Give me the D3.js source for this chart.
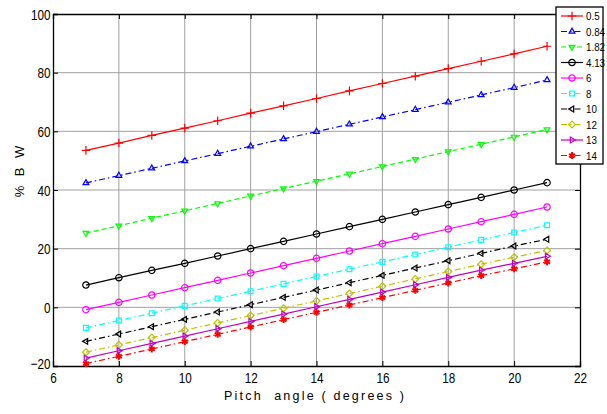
<!DOCTYPE html>
<html>
<head>
<meta charset="utf-8">
<script src="https://cdn.jsdelivr.net/npm/d3@7"></script>
<style>
  body { margin: 0; background: #fff; }
  text { font-family: "Liberation Sans", Arial, sans-serif; }
</style>
</head>
<body>
<div id="chart"></div>
<script>
// data
var pitch = [7, 8, 9, 10, 11, 12, 13, 14, 15, 16, 17, 18, 19, 20, 21];
var seriesNames = ["0.5", "0.84", "1.82", "4.13", "6", "8", "10", "12", "13", "14"];
var s05   = [53.5, 56.0, 58.6, 61.1, 63.6, 66.2, 68.7, 71.2, 73.8, 76.3, 78.8, 81.4, 83.9, 86.4, 89.0];
var s084  = [42.4, 44.9, 47.4, 49.9, 52.4, 54.9, 57.4, 59.9, 62.4, 64.9, 67.4, 69.9, 72.4, 74.9, 77.5];
var s182  = [25.3, 27.8, 30.4, 32.9, 35.4, 38.0, 40.5, 43.0, 45.5, 48.0, 50.5, 53.1, 55.6, 58.1, 60.6];
var s413  = [7.6, 10.1, 12.6, 15.0, 17.5, 20.0, 22.5, 25.0, 27.5, 30.0, 32.5, 35.0, 37.5, 40.0, 42.5];
var s6    = [-0.8, 1.7, 4.2, 6.7, 9.2, 11.7, 14.2, 16.7, 19.2, 21.7, 24.2, 26.7, 29.2, 31.7, 34.2];
var s8    = [-7.0, -4.5, -2.0, 0.5, 3.0, 5.5, 8.0, 10.5, 13.0, 15.5, 18.0, 20.5, 23.0, 25.5, 28.0];
var s10   = [-11.6, -9.1, -6.6, -4.1, -1.6, 0.9, 3.4, 5.9, 8.4, 10.9, 13.4, 15.9, 18.4, 20.9, 23.2];
var s12   = [-15.3, -12.8, -10.3, -7.8, -5.3, -2.8, -0.3, 2.2, 4.7, 7.2, 9.7, 12.2, 14.7, 17.1, 19.4];
var s13   = [-17.3, -14.8, -12.3, -9.8, -7.3, -4.8, -2.3, 0.2, 2.7, 5.2, 7.7, 10.2, 12.7, 15.0, 17.4];
var s14   = [-19.2, -16.7, -14.2, -11.7, -9.2, -6.7, -4.2, -1.7, 0.8, 3.3, 5.8, 8.3, 10.8, 13.1, 15.5];
var seriesValues = [s05, s084, s182, s413, s6, s8, s10, s12, s13, s14];
var xTicks = [6, 8, 10, 12, 14, 16, 18, 20, 22];
var yTicks = [-20, 0, 20, 40, 60, 80, 100];

// look of each series (MATLAB style)
var colors  = ["#ff0000", "#0000ff", "#00ff00", "#000000", "#ff00ff", "#00ffff", "#000000", "#bfbf00", "#bf00bf", "#ff0000"];
var dashes  = [null, "6,3,1.5,3", "5,3", null, null, "6,3,1.5,3", "6,3,1.5,3", "6,3,1.5,3", null, "6,3,1.5,3"];
var markers = ["plus", "tri-up", "tri-down", "circle", "circle", "square", "tri-left", "diamond", "tri-right", "star"];

var svgWidth = 607, svgHeight = 414;
var margin = {top: 14, right: 27, bottom: 48, left: 53};
var width = svgWidth - margin.left - margin.right;
var height = svgHeight - margin.top - margin.bottom;
var narrow = 0.78;

var svg = d3.select("#chart").append("svg")
  .attr("width", svgWidth)
  .attr("height", svgHeight);

var chartGroup = svg.append("g")
  .attr("transform", `translate(${margin.left}, ${margin.top})`);

var x = d3.scaleLinear().domain([6, 22]).range([0, width]);
var y = d3.scaleLinear().domain([-20, 100]).range([height, 0]);

// grid
chartGroup.append("g").selectAll("line").data(xTicks.slice(1, -1)).enter().append("line")
  .attr("x1", d => x(d)).attr("x2", d => x(d)).attr("y1", 0).attr("y2", height)
  .attr("stroke", "#a0a0a0").attr("stroke-width", 1);
chartGroup.append("g").selectAll("line").data(yTicks.slice(1, -1)).enter().append("line")
  .attr("y1", d => y(d)).attr("y2", d => y(d)).attr("x1", 0).attr("x2", width)
  .attr("stroke", "#a0a0a0").attr("stroke-width", 1);

// axes
var bottomAxis = d3.axisBottom(x).tickValues(xTicks).tickSize(-5).tickPadding(6);
var leftAxis = d3.axisLeft(y).tickValues(yTicks).tickSize(-5).tickPadding(3);
var topAxis = d3.axisTop(x).tickValues(xTicks).tickSize(-5).tickFormat("");
var rightAxis = d3.axisRight(y).tickValues(yTicks).tickSize(-5).tickFormat("");

var gx = chartGroup.append("g").attr("transform", `translate(0, ${height})`).call(bottomAxis);
var gy = chartGroup.append("g").call(leftAxis);
chartGroup.append("g").call(topAxis);
chartGroup.append("g").attr("transform", `translate(${width}, 0)`).call(rightAxis);

chartGroup.selectAll(".domain").attr("stroke", "#000").attr("stroke-width", 1.3);
chartGroup.selectAll(".tick line").attr("stroke", "#000");
chartGroup.selectAll(".tick text").attr("font-size", 15).attr("fill", "#000")
  .attr("font-family", "'Liberation Sans', Arial, sans-serif");
gx.selectAll(".tick text").attr("transform", `scale(${narrow},1)`);
gy.selectAll(".tick text")
  .attr("x", -2.5 / narrow)
  .attr("transform", `scale(${narrow},1)`)
  .attr("dy", "0.35em");
gy.selectAll(".tick").filter(d => d === -20).select("text").attr("dy", "0.15em");

// axis titles
chartGroup.append("text")
  .attr("x", 224 - margin.left)
  .attr("y", 400 - margin.top)
  .attr("font-size", 12.5)
  .attr("textLength", 180)
  .attr("lengthAdjust", "spacing")
  .attr("xml:space", "preserve")
  .style("white-space", "pre")
  .text("Pitch  angle ( degrees )");

chartGroup.append("text")
  .attr("transform", "rotate(-90)")
  .attr("x", -(170 - margin.top))
  .attr("y", 24 - margin.left)
  .attr("text-anchor", "middle")
  .attr("font-size", 13)
  .attr("letter-spacing", 3)
  .text("% B W");

// marker drawer
function drawMarker(g, kind, color) {
  var sym, rot = 0, size;
  if (kind === "plus") { sym = d3.symbolPlus; size = 26; }
  else if (kind === "circle") { sym = d3.symbolCircle; size = 32; }
  else if (kind === "square") { sym = d3.symbolSquare2; size = 30; }
  else if (kind === "diamond") { sym = d3.symbolDiamond2; size = 30; }
  else if (kind === "star") { sym = d3.symbolAsterisk; size = 32; }
  else {
    sym = d3.symbolTriangle2; size = 24;
    rot = {"tri-up": 0, "tri-down": 180, "tri-left": -90, "tri-right": 90}[kind];
  }
  g.append("path")
    .attr("d", d3.symbol().type(sym).size(size)())
    .attr("transform", `rotate(${rot})`)
    .attr("fill", "none")
    .attr("stroke", color)
    .attr("stroke-width", kind === "star" ? 2 : 1.2);
}

var line = d3.line().x(d => x(d[0])).y(d => y(d[1]));

seriesValues.forEach(function(vals, i) {
  var pts = pitch.map((p, j) => [p, vals[j]]);
  chartGroup.append("path")
    .datum(pts)
    .attr("d", line)
    .attr("fill", "none")
    .attr("stroke", colors[i])
    .attr("stroke-width", 1.2)
    .attr("stroke-dasharray", dashes[i]);
  pts.forEach(function(p) {
    var g = chartGroup.append("g").attr("transform", `translate(${x(p[0])}, ${y(p[1])})`);
    drawMarker(g, markers[i], colors[i]);
  });
});

// legend
var legend = svg.append("g").attr("transform", "translate(556, 7)");
legend.append("rect")
  .attr("width", 47).attr("height", 157)
  .attr("fill", "#fff").attr("stroke", "#000").attr("stroke-width", 1.3);

seriesNames.forEach(function(name, i) {
  var row = legend.append("g").attr("transform", `translate(0, ${9 + i * 15.5})`);
  row.append("line")
    .attr("x1", 5).attr("x2", 27)
    .attr("stroke", colors[i]).attr("stroke-width", 1.2)
    .attr("stroke-dasharray", dashes[i]);
  var m = row.append("g").attr("transform", "translate(16, 0)");
  drawMarker(m, markers[i], colors[i]);
  row.append("text")
    .attr("x", 30 / 0.85).attr("y", 4)
    .attr("transform", "scale(0.85,1)")
    .attr("font-size", 11.5)
    .text(name);
});
</script>
</body>
</html>
